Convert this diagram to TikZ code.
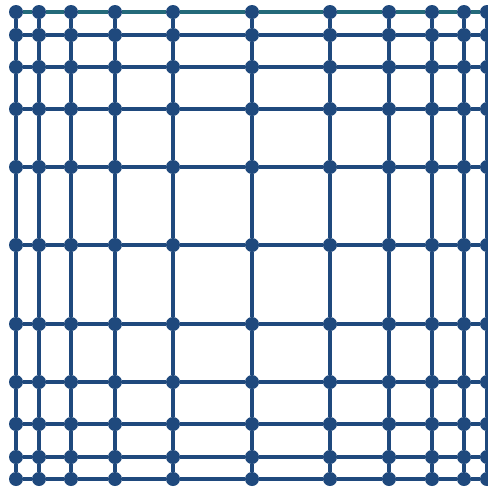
\documentclass[tikz,border=0pt]{standalone}
\usepackage{xcolor}
\usepackage{tikz}

\definecolor{gridblue}{RGB}{31,73,125}
\definecolor{gridteal}{RGB}{36,106,122}

\begin{document}
\begin{tikzpicture}[
    x=1pt, y=-1pt,
    dot/.style={circle, fill=gridblue, inner sep=0pt, minimum size=14pt},
    link/.style={draw=gridblue, line width=3.6pt},
    toplink/.style={draw=gridteal, line width=4pt}
  ]
    \useasboundingbox (0,0) rectangle (488,488);
    \clip (0,0) rectangle (488,488);

    % grid points
    \foreach \x [count=\i] in {16,39,71,115,173,252,330,389,432,464,487}
      \foreach \y [count=\j] in {12,35,67,109,167,245,324,382,424,457,479}
        \node[dot] (n-\i-\j) at (\x,\y) {};

    % horizontal links
    \foreach \i in {1,...,10}{
      \pgfmathtruncatemacro{\k}{\i+1}
      \draw[toplink] (n-\i-1) -- (n-\k-1);
      \foreach \j in {2,...,11}
        \draw[link] (n-\i-\j) -- (n-\k-\j);
    }

    % vertical links
    \foreach \j in {1,...,10}{
      \pgfmathtruncatemacro{\k}{\j+1}
      \foreach \i in {1,...,11}
        \draw[link] (n-\i-\j) -- (n-\i-\k);
    }
  \end{tikzpicture}
\end{document}
